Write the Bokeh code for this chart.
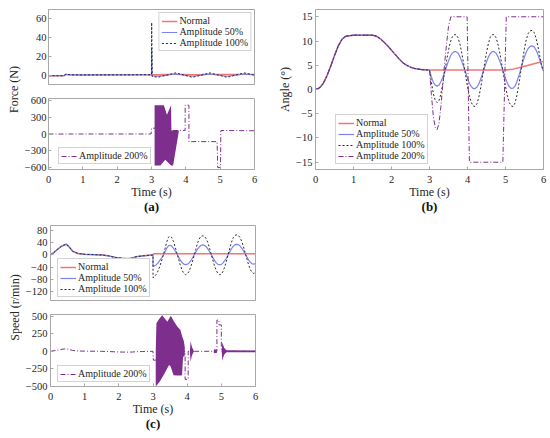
from bokeh.plotting import figure
from bokeh.models import (Range1d, FixedTicker, Legend, LegendItem,
                          CustomJSTickFormatter, LinearAxis)
from bokeh.layouts import row, column
from bokeh.embed import file_html
from bokeh.resources import INLINE

FONT = "Liberation Serif"
C_NORMAL = "#f47474"
C_50 = "#7b83ec"
C_100 = "#2a2a2a"
C_200 = "#7e2f8e"
FRAME = "#a8a8a8"
TXT = "#262626"

# ---------------- data ----------------
X_TICKS = [0, 1, 2, 3, 4, 5, 6]

# common oscillation time grid (s)
T_OSC = [3.00, 3.05, 3.10, 3.15, 3.20, 3.25, 3.30, 3.35, 3.40, 3.45,
         3.50, 3.55, 3.60, 3.65, 3.70, 3.75, 3.80, 3.85, 3.90, 3.95,
         4.00, 4.05, 4.10, 4.15, 4.20, 4.25, 4.30, 4.35, 4.40, 4.45,
         4.50, 4.55, 4.60, 4.65, 4.70, 4.75, 4.80, 4.85, 4.90, 4.95,
         5.00, 5.05, 5.10, 5.15, 5.20, 5.25, 5.30, 5.35, 5.40, 5.45,
         5.50, 5.55, 5.60, 5.65, 5.70, 5.75, 5.80, 5.85, 5.90, 5.95, 6.00]

# (a) Force
T_FORCE_PRE = [0, 0.45, 0.5, 0.55, 0.7, 1.0, 2.0, 2.99]
FORCE_PRE = [-0.6, -0.6, 0.8, 0.6, 0.3, 0.2, 0.3, 0.4]
T_FORCE_POST = [3.0, 3.005, 3.02, 3.2, 3.45, 3.7, 3.95, 4.2, 4.45, 4.7,
                4.95, 5.2, 5.45, 5.7, 5.95, 6.0]
FORCE_NORMAL_POST = [0.4, 0.4, 0.3, 0.5, 0.8, 1.0, 0.8, 0.5, 0.6, 0.9,
                     0.8, 0.6, 0.7, 0.9, 0.8, 0.8]
FORCE_50_POST = [0.4, 29, -0.8, -1.1, 0, 1.2, 0, -1.2, 0, 1.2,
                 0, -1.2, 0, 1.2, 0.3, 0]
FORCE_100_POST = [0.4, 56, -1.5, -2.2, 0, 2.4, 0, -2.3, 0, 2.4,
                  0, -2.3, 0, 2.4, 0.5, 0]
T_FORCE_200_POST = [3.0, 3.08, 3.58, 3.98, 3.98, 4.09, 4.09, 4.91, 4.93,
                    5.01, 5.02, 6.0]
FORCE_200_POST = [105, 105, 63, 63, 519, 519, -137, -137, -605,
                  -605, 63, 58]
# envelope of the dense oscillation (polygon outline)
T_FORCE_200_ENV = [3.09, 3.36, 3.45, 3.57, 3.58, 3.80, 3.63, 3.57, 3.40,
                   3.26, 3.09]
FORCE_200_ENV = [519, 519, 348, 519, 63, 63, -566, -566, -463, -566, -566]

# (b) Angle
T_ANGLE_PRE = [0, 0.1, 0.2, 0.3, 0.4, 0.5, 0.6, 0.7, 0.8, 0.9, 1.0, 1.5,
               1.6, 1.7, 1.8, 1.9, 2.0, 2.1, 2.2, 2.3, 2.4, 2.5, 2.6, 2.8,
               3.0]
ANGLE_PRE = [0, 0.3, 1.2, 2.8, 4.8, 7.0, 9.0, 10.4, 11.0, 11.1, 11.2, 11.2,
             11.0, 10.5, 9.8, 9.0, 8.1, 7.2, 6.3, 5.5, 5.0, 4.6, 4.35, 4.1,
             4.0]
T_ANGLE_NORMAL_POST = [3.0, 5.0, 5.2, 5.4, 5.6, 5.8, 6.0]
ANGLE_NORMAL_POST = [4.0, 4.0, 4.2, 4.6, 5.0, 5.4, 5.8]
ANGLE_50_POST = [4.0, 2.6, 1.5, 0.9, 0.7, 0.9, 1.6, 2.5, 3.6, 4.8,
                 5.9, 6.9, 7.5, 7.8, 7.8, 7.5, 6.8, 5.8, 4.7, 3.5,
                 2.3, 1.3, 0.6, 0.2, 0.2, 0.5, 1.2, 2.2, 3.4, 4.6,
                 5.7, 6.7, 7.4, 7.8, 7.8, 7.5, 6.8, 5.8, 4.7, 3.5,
                 2.3, 1.3, 0.6, 0.2, 0.3, 0.7, 1.6, 2.8, 4.1, 5.5,
                 6.8, 7.8, 8.5, 8.9, 9.0, 8.8, 8.2, 7.3, 6.2, 5.0, 3.8]
ANGLE_100_POST = [4.0, 1.5, -0.8, -2.2, -2.7, -2.3, -0.9, 1.2, 3.6, 6.0,
                  8.1, 9.8, 10.9, 11.3, 11.3, 10.7, 9.4, 7.5, 5.3, 2.9,
                  0.6, -1.3, -2.7, -3.4, -3.5, -2.9, -1.5, 0.5, 2.9, 5.3,
                  7.6, 9.5, 10.8, 11.3, 11.3, 10.7, 9.4, 7.5, 5.3, 2.9,
                  0.6, -1.3, -2.7, -3.4, -3.5, -2.8, -1.2, 1.0, 3.6, 6.2,
                  8.5, 10.4, 11.6, 12.1, 12.2, 11.8, 10.7, 9.0, 7.0, 4.8, 3.8]
T_ANGLE_200_POST = [3.00, 3.05, 3.10, 3.15, 3.20, 3.25, 3.30, 3.35, 3.40,
                    3.45, 3.50, 3.56, 3.99, 4.05, 4.93, 5.02, 6.00]
ANGLE_200_POST = [4.0, -1.0, -5.5, -7.8, -8.3, -7.0, -3.5, 1.0, 5.5,
                  9.5, 13.0, 15.0, 15.0, -15.0, -15.0, 15.0, 15.0]

# (c) Speed
T_SPEED_PRE = [0, 0.1, 0.2, 0.3, 0.4, 0.47, 0.55, 0.65, 0.8, 1.0, 1.3, 1.5,
               1.7, 1.9, 2.1, 2.3, 2.4, 2.5, 2.7, 3.0]
SPEED_PRE = [0, 8, 18, 27, 33, 35, 26, 12, 5, 2, 1, 0,
             -3, -8, -11, -12, -10, -6, -3, 0]
T_SPEED_NORMAL_POST = [3.0, 3.02, 6.0]
SPEED_NORMAL_POST = [0, 4, 4]
SPEED_50_POST = [-38, -36, -32, -26, -18, -10, -1, 10, 22, 30,
                 32, 29, 22, 13, 3, -7, -17, -25, -30, -32,
                 -31, -27, -20, -11, -1, 9, 19, 26, 31, 33,
                 32, 28, 21, 12, 2, -8, -18, -26, -31, -32,
                 -31, -26, -19, -10, 1, 11, 21, 29, 34, 35,
                 34, 29, 22, 13, 3, -7, -17, -24, -29, -30, -28]
SPEED_100_POST = [-75, -70, -63, -52, -37, -20, -1, 20, 42, 58,
                  62, 57, 44, 26, 6, -14, -34, -50, -60, -65,
                  -63, -55, -41, -23, -3, 18, 38, 52, 61, 63,
                  62, 55, 42, 24, 4, -16, -36, -51, -61, -65,
                  -63, -54, -39, -20, 2, 23, 43, 57, 65, 66,
                  64, 57, 44, 26, 6, -14, -33, -48, -58, -61, -58]
T_SPEED_200_POST = [3.01, 3.08, 3.93, 3.94, 3.94, 4.03, 4.03, 4.87, 4.87,
                    4.93, 4.93, 5.00, 5.00, 6.00]
SPEED_200_POST = [-126, -126, 0, 0, -400, -400, 0, 0, 445,
                  445, 377, 377, 0, 0]
T_SPEED_200_ENV1 = [3.08, 3.10, 3.18, 3.27, 3.42, 3.52, 3.62, 3.71, 3.80,
                    3.85, 3.90, 3.93, 3.93, 3.88, 3.85, 3.80, 3.70, 3.60,
                    3.52, 3.47, 3.32, 3.20, 3.10, 3.08]
SPEED_200_ENV1 = [0, 400, 460, 513, 422, 508, 422, 354, 308,
                  217, 149, 60, -60, -80, -340, -345, -345, -340,
                  -220, -194, -331, -430, -490, -490]
T_SPEED_200_ENV2 = [4.08, 4.10, 4.14, 4.20, 4.14, 4.10, 4.08]
SPEED_200_ENV2 = [0, 148, 60, 0, -60, -148, 0]
T_SPEED_200_ENV3 = [4.78, 4.87, 4.87, 4.78]
SPEED_200_ENV3 = [25, 25, -25, -25]
T_SPEED_200_ENV4 = [5.01, 5.03, 5.08, 5.15, 6.00, 6.00, 5.15, 5.08, 5.03, 5.01]
SPEED_200_ENV4 = [0, 130, 50, 15, 12, -12, -15, -50, -130, 0]

LABELS = ["Normal", "Amplitude 50%", "Amplitude 100%", "Amplitude 200%"]

MINUS_FMT = "return (tick < 0 ? '\\u2212' : '') + Math.abs(tick);"


def style_axis(ax, standoff=3):
    ax.axis_line_color = FRAME
    ax.major_tick_line_color = FRAME
    ax.minor_tick_line_color = None
    ax.major_tick_in = 3
    ax.major_tick_out = 0
    ax.major_label_text_font = FONT
    ax.major_label_text_font_size = "10.5px"
    ax.major_label_text_line_height = 1.0
    ax.major_label_text_color = TXT
    ax.major_label_standoff = standoff
    ax.axis_label_text_font = FONT
    ax.axis_label_text_font_size = "12px"
    ax.axis_label_text_line_height = 1.0
    ax.axis_label_text_font_style = "normal"
    ax.axis_label_text_color = TXT
    ax.axis_label_standoff = 1
    ax.formatter = CustomJSTickFormatter(code=MINUS_FMT)


def panel(w, h, yr, bl, br, bt, bb, yticks, xlabels, ylabel=None,
          caption=None, ystand=3):
    p = figure(width=w, height=h, x_range=Range1d(0, 6), y_range=Range1d(*yr),
               output_backend="svg", toolbar_location=None,
               min_border_left=bl, min_border_right=br, min_border_top=bt,
               min_border_bottom=bb)
    p.grid.visible = False
    p.outline_line_color = FRAME
    p.background_fill_color = "white"
    p.border_fill_color = "white"
    style_axis(p.xaxis[0], standoff=6)
    style_axis(p.yaxis[0], standoff=ystand)
    p.xaxis.ticker = FixedTicker(ticks=X_TICKS)
    p.yaxis.ticker = FixedTicker(ticks=yticks)
    if xlabels:
        p.xaxis.axis_label = "Time (s)"
        p.xaxis.axis_label_standoff = -1
    else:
        p.xaxis.visible = False
    if ylabel:
        p.yaxis.axis_label = ylabel
    if caption:
        cap = LinearAxis(ticker=FixedTicker(ticks=[]), axis_line_color=None,
                         major_tick_line_color=None,
                         minor_tick_line_color=None, major_label_standoff=0,
                         major_tick_out=0, major_tick_in=0,
                         axis_label=caption, axis_label_text_font=FONT,
                         axis_label_text_font_size="13px",
                         axis_label_text_font_style="bold",
                         axis_label_text_line_height=1.0,
                         axis_label_text_color="#111111",
                         axis_label_standoff=-3)
        p.add_layout(cap, "below")
    return p


def add_legend(p, items, loc):
    leg = Legend(items=[LegendItem(label=l, renderers=[r]) for l, r in items],
                 location=loc, margin=3, padding=2, spacing=0,
                 label_text_font=FONT, label_text_font_size="10px",
                 label_text_line_height=1.0,
                 label_text_color=TXT, label_height=10, glyph_height=10,
                 glyph_width=16, label_standoff=2,
                 border_line_color=FRAME, background_fill_color="white",
                 background_fill_alpha=1.0)
    p.add_layout(leg)


def label_fig(w, h, text, bt, bb):
    p = figure(width=w, height=h, x_range=Range1d(0, 1), y_range=Range1d(0, 1),
               output_backend="svg", toolbar_location=None,
               x_axis_location=None, y_axis_location="left",
               min_border_left=w - 1, min_border_right=0, min_border_top=bt,
               min_border_bottom=bb)
    p.grid.visible = False
    p.outline_line_color = None
    ax = p.yaxis[0]
    ax.ticker = FixedTicker(ticks=[])
    ax.axis_line_color = None
    ax.major_tick_line_color = None
    ax.minor_tick_line_color = None
    ax.axis_label = text
    ax.axis_label_standoff = 0
    ax.axis_label_text_font = FONT
    ax.axis_label_text_font_size = "12px"
    ax.axis_label_text_font_style = "normal"
    ax.axis_label_text_line_height = 1.0
    ax.axis_label_text_color = TXT
    return p


def lines4(p, series):
    rs = []
    styles = [dict(line_color=C_NORMAL, line_width=1.5),
              dict(line_color=C_50, line_width=1.2),
              dict(line_color=C_100, line_width=1.0, line_dash="2 2"),
              dict(line_color=C_200, line_width=1.0, line_dash="5 2 1 2")]
    for (x, y), st in zip(series, styles):
        rs.append(p.line(x, y, **st))
    return rs


# ---------------- (a) Force ----------------
a_top = panel(254, 91, (-10, 70), 25, 21, 9, 7, [0, 20, 40, 60], False,
              ystand=2)
ra = lines4(a_top, [
    (T_FORCE_PRE + T_FORCE_POST, FORCE_PRE + FORCE_NORMAL_POST),
    (T_FORCE_PRE + T_FORCE_POST, FORCE_PRE + FORCE_50_POST),
    (T_FORCE_PRE + T_FORCE_POST, FORCE_PRE + FORCE_100_POST),
])
add_legend(a_top, list(zip(LABELS[:3], ra)), "top_right")

a_bot = panel(254, 125, (-640, 640), 25, 21, 7, 44,
              [-600, -300, 0, 300, 600], True, caption="(a)", ystand=2)
a_bot.patch(T_FORCE_200_ENV, FORCE_200_ENV, fill_color=C_200, line_color=None)
r200a = a_bot.line(T_FORCE_PRE + T_FORCE_200_POST, FORCE_PRE + FORCE_200_POST,
                   line_color=C_200, line_width=1.0, line_dash="5 2 1 2")
add_legend(a_bot, [(LABELS[3], r200a)], (10, 5))

# ---------------- (b) Angle ----------------
b = panel(273, 216, (-16.5, 16.5), 40, 5, 5, 44,
          [-15, -10, -5, 0, 5, 10, 15], True, ylabel="Angle (°)",
          caption="(b)")
rb = lines4(b, [
    (T_ANGLE_PRE + T_ANGLE_NORMAL_POST, ANGLE_PRE + ANGLE_NORMAL_POST),
    (T_ANGLE_PRE + T_OSC, ANGLE_PRE + ANGLE_50_POST),
    (T_ANGLE_PRE + T_OSC, ANGLE_PRE + ANGLE_100_POST),
    (T_ANGLE_PRE + T_ANGLE_200_POST, ANGLE_PRE + ANGLE_200_POST),
])
add_legend(b, list(zip(LABELS, rb)), (20, 5))

# ---------------- (c) Speed ----------------
c_top = panel(253, 90, (-150, 97), 27, 20, 9, 6,
              [-120, -80, -40, 0, 40, 80], False)
rc = lines4(c_top, [
    (T_SPEED_PRE + T_SPEED_NORMAL_POST, SPEED_PRE + SPEED_NORMAL_POST),
    (T_SPEED_PRE + T_OSC, SPEED_PRE + SPEED_50_POST),
    (T_SPEED_PRE + T_OSC, SPEED_PRE + SPEED_100_POST),
])
add_legend(c_top, list(zip(LABELS[:3], rc)), (7, 3))

c_bot = panel(253, 127, (-502, 525), 27, 20, 8, 44,
              [-500, -250, 0, 250, 500], True, caption="(c)")
for tx, vy in [(T_SPEED_200_ENV1, SPEED_200_ENV1),
               (T_SPEED_200_ENV2, SPEED_200_ENV2),
               (T_SPEED_200_ENV3, SPEED_200_ENV3),
               (T_SPEED_200_ENV4, SPEED_200_ENV4)]:
    c_bot.patch(tx, vy, fill_color=C_200, line_color=None)
r200c = c_bot.line(T_SPEED_PRE + T_SPEED_200_POST, SPEED_PRE + SPEED_200_POST,
                   line_color=C_200, line_width=1.0, line_dash="5 2 1 2")
add_legend(c_bot, [(LABELS[3], r200c)], (7, 4))

labA = label_fig(21, 216, "Force (N)", 9, 44)
labC = label_fig(22, 217, "Speed (r/min)", 9, 44)

layout = column(
    row(labA, column(a_top, a_bot), b),
    row(labC, column(c_top, c_bot)),
)

open("out.html", "w", encoding="utf-8").write(file_html(layout, INLINE))
